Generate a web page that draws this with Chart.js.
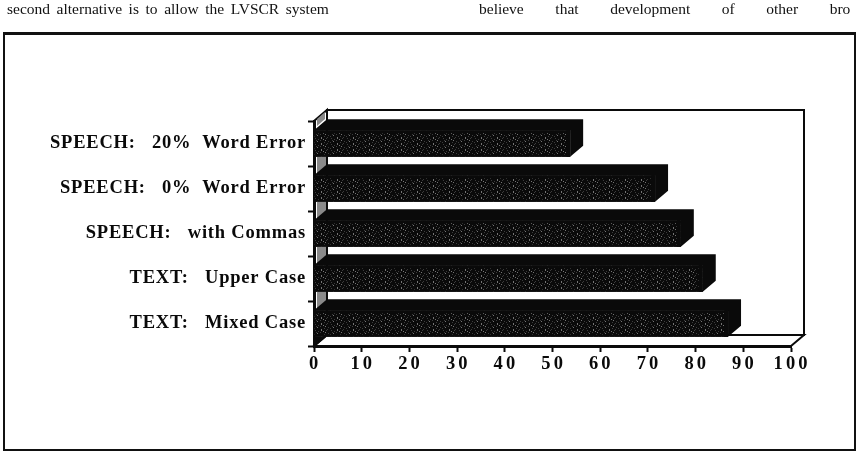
<!DOCTYPE html>
<html lang="en">
<head>
<meta charset="UTF-8">
<title>Recognition scores</title>
<script src="https://cdn.jsdelivr.net/npm/chart.js"></script>
<style>
    html, body { margin: 0; background: #fff; }
    #wrap { position: relative; width: 862px; height: 452px; overflow: hidden; }
    #frame { position: absolute; left: 3px; top: 32px; width: 853px; height: 419px; border: 2px solid #111; border-top-width: 3px; box-sizing: border-box; }
    .line { position: absolute; top: 0; font: 15.5px 'Liberation Serif', serif; color: #111; white-space: nowrap; }
</style>
</head>
<body>
<div id="wrap">
    <canvas id="chart" width="862" height="452"></canvas>
    <div id="frame"></div>
    <div class="line" style="left:7px;word-spacing:2.7px">second alternative is to allow the LVSCR system</div>
    <div class="line" style="left:479px;word-spacing:27.7px">believe that development of other bro</div>
</div>
<script>
const categories = ['SPEECH:   20%  Word Error', 'SPEECH:   0%  Word Error', 'SPEECH:   with Commas', 'TEXT:   Upper Case', 'TEXT:   Mixed Case'];
const scores = [53.7, 71.5, 76.9, 81.5, 86.8];
const tickValues = [0, 10, 20, 30, 40, 50, 60, 70, 80, 90, 100];

const depthX = 13, depthY = 11;
const ink = '#0a0a0a';

// dark speckle for the front face of the bars
const speckleDots = [[1,0],[6,0],[11,0],[3,1],[14,1],[0,2],[5,2],[12,2],[8,3],[13,3],[4,4],[10,4],[1,5],[7,5]];
function speckle(ctx) {
    const c = document.createElement('canvas');
    c.width = 16; c.height = 6;
    const p = c.getContext('2d');
    p.fillStyle = '#0a0a0a';
    p.fillRect(0, 0, 16, 6);
    speckleDots.forEach((d, i) => {
        p.fillStyle = i % 3 ? '#3c3c3c' : '#747474';
        p.fillRect(d[0], d[1], 1, 1);
    });
    return ctx.createPattern(c, 'repeat');
}

function poly(ctx, pts, fill) {
    ctx.beginPath();
    pts.forEach((p, i) => i ? ctx.lineTo(p[0], p[1]) : ctx.moveTo(p[0], p[1]));
    ctx.closePath();
    if (fill) { ctx.fillStyle = fill; ctx.fill(); }
}

const box3d = {
    id: 'box3d',
    // slightly spaced lettering on the axis labels
    beforeDraw(chart) {
        chart.ctx.letterSpacing = '0.8px';
    },
    // back wall, floor and left wall sit behind the bars
    beforeDatasetsDraw(chart) {
        const { ctx, chartArea: a } = chart;
        ctx.save();
        ctx.strokeStyle = ink;
        ctx.lineWidth = 2;
        poly(ctx, [[a.left + depthX, a.top - depthY], [a.right + depthX, a.top - depthY], [a.right + depthX, a.bottom - depthY], [a.left + depthX, a.bottom - depthY]]);
        ctx.stroke();
        poly(ctx, [[a.left, a.bottom], [a.left + depthX, a.bottom - depthY], [a.right + depthX, a.bottom - depthY], [a.right, a.bottom]]);
        ctx.stroke();
        poly(ctx, [[a.left, a.top], [a.left + depthX, a.top - depthY], [a.left + depthX, a.bottom - depthY], [a.left, a.bottom]]);
        ctx.stroke();
        // grey shadow at the head of the left wall
        poly(ctx, [[a.left + 3, a.top - 2], [a.left + depthX - 2, a.top - 9], [a.left + depthX - 2, a.top - 2], [a.left + 3, a.top + 5]], '#8a8a8a');
        ctx.restore();
    },
    // top and end faces of each bar, plus the grey shadow on the left wall
    afterDatasetsDraw(chart) {
        const { ctx } = chart;
        const a = chart.chartArea;
        ctx.save();
        const bars = chart.getDatasetMeta(0).data;
        bars.forEach((bar, i) => {
            const h = bar.height / 2;
            const top = bar.y - h, bot = bar.y + h;
            // wedge goes first so the next bar's slanted top cuts it
            if (i < bars.length - 1) {
                poly(ctx, [[a.left + 3, bot], [a.left + depthX - 1, bot], [a.left + depthX - 1, bot + 9], [a.left + 3, bot + 17]], '#8a8a8a');
            } else {
                poly(ctx, [[a.left, bot], [a.left + 10, bot], [a.left, a.bottom]], ink);
            }
            poly(ctx, [[a.left, top], [a.left + depthX, top - depthY], [bar.x + depthX, top - depthY], [bar.x + depthX, bot - depthY], [bar.x, bot], [bar.x, top]], ink);
            // speckle stays inside the front face
            ctx.fillStyle = ink;
            ctx.fillRect(a.left, top, bar.x - a.left, 3);
            ctx.fillRect(bar.x - 4, top, 4, bot - top);
            ctx.fillRect(a.left, bot - 2, bar.x - a.left, 2);
        });
        ctx.restore();
    }
};

const canvas = document.getElementById('chart');
const ctx = canvas.getContext('2d');
const tickFont = { family: "'Liberation Serif', serif", size: 18.5, weight: 'bold' };

new Chart(ctx, {
    type: 'bar',
    data: {
        labels: categories,
        datasets: [{
            data: scores,
            backgroundColor: speckle(ctx),
            borderWidth: 0,
            barPercentage: 0.59,
            categoryPercentage: 1
        }]
    },
    options: {
        indexAxis: 'y',
        responsive: false,
        animation: false,
        events: [],
        layout: { padding: { top: 121, right: 71, left: 0, bottom: 0 } },
        plugins: { legend: { display: false }, tooltip: { enabled: false } },
        scales: {
            x: {
                min: 0,
                max: 100,
                afterBuildTicks: s => { s.ticks = tickValues.map(v => ({ value: v })); },
                afterFit: s => { s.height = 106; },
                border: { color: ink, width: 3 },
                grid: { drawOnChartArea: false, color: ink, tickLength: 6, tickWidth: 2 },
                ticks: {
                    color: ink, font: tickFont, padding: 1, maxRotation: 0, autoSkip: false,
                    callback: v => String(v).split('').join('\u200a')
                }
            },
            y: {
                afterFit: s => { s.width = 314; },
                border: { color: ink, width: 3 },
                grid: { drawOnChartArea: false, color: ink, tickLength: 6, tickWidth: 2 },
                ticks: { color: ink, font: tickFont, padding: 2, autoSkip: false }
            }
        }
    },
    plugins: [box3d]
});
</script>
</body>
</html>
